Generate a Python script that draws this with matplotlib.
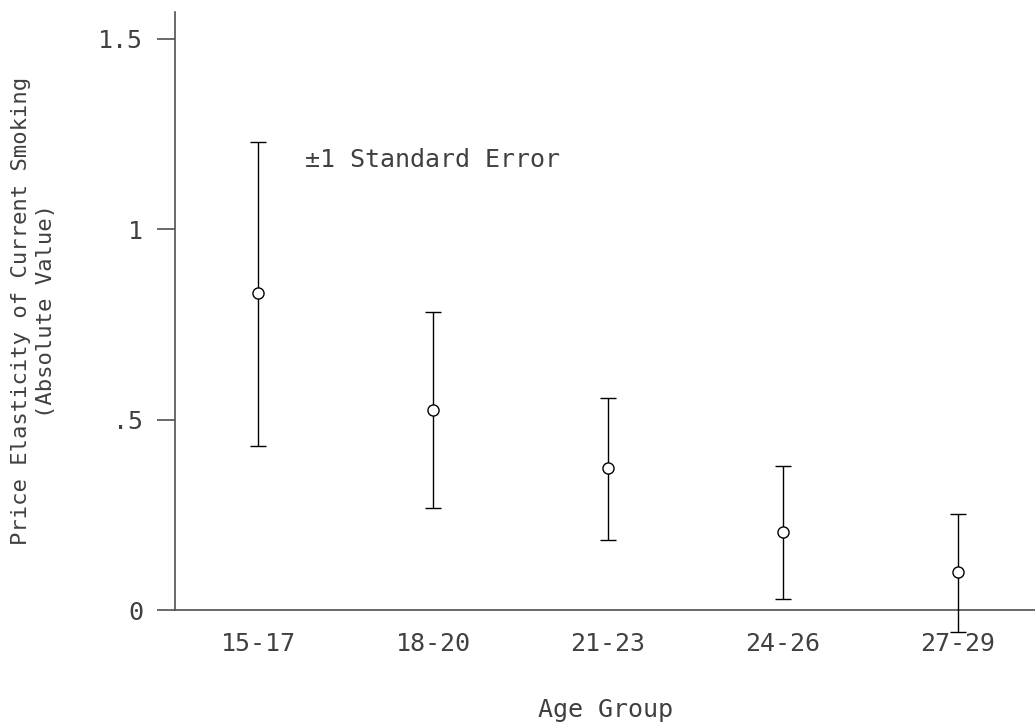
import matplotlib
matplotlib.use("Agg")
import matplotlib.pyplot as plt

age_groups = ["15-17", "18-20", "21-23", "24-26", "27-29"]
elasticity = [0.832, 0.525, 0.373, 0.205, 0.100]
upper = [1.228, 0.782, 0.556, 0.378, 0.252]
lower = [0.430, 0.268, 0.184, 0.029, -0.058]

y_ticks = [0, 0.5, 1, 1.5]
y_tick_labels = ["0", ".5", "1", "1.5"]

plt.rcParams["font.family"] = ["DejaVu Sans Mono"]
axis_color = "#505050"
text_color = "#404040"


def main():
    fig = plt.figure(figsize=(10.35, 7.23), dpi=100)
    ax = fig.add_axes([175 / 1035, 113 / 723, 860 / 1035, 598 / 723])

    x = list(range(1, len(age_groups) + 1))
    err_lo = [m - lo for m, lo in zip(elasticity, lower)]
    err_hi = [hi - m for m, hi in zip(elasticity, upper)]

    eb = ax.errorbar(x, elasticity, yerr=[err_lo, err_hi], fmt="o", mfc="white",
                     mec="black", ms=8, mew=1.0, ecolor="black", elinewidth=1.0,
                     capsize=6, capthick=1.0, color="black", zorder=3)
    for artist in eb.get_children():
        artist.set_clip_on(False)

    ax.set_xlim(0.526, 5.44)
    ax.set_ylim(0, 1.57)

    for side in ["top", "right"]:
        ax.spines[side].set_visible(False)
    for side in ["left", "bottom"]:
        ax.spines[side].set_color(axis_color)
        ax.spines[side].set_linewidth(1.2)

    ax.set_yticks(y_ticks)
    ax.set_yticklabels(y_tick_labels)
    ax.tick_params(axis="y", length=13, width=1.2, color=axis_color,
                   pad=10, labelsize=18, labelcolor=text_color)
    ax.set_xticks(x)
    ax.set_xticklabels(age_groups)
    ax.tick_params(axis="x", length=0, pad=16, labelsize=18,
                   labelcolor=text_color)

    ax.set_xlabel("Age Group", fontsize=18, color=text_color, labelpad=30)
    ax.set_ylabel("Price Elasticity of Current Smoking\n(Absolute Value)",
                  fontsize=16, color=text_color, labelpad=30, linespacing=1.35)

    ax.text(1.269, 1.181, "\u00b11 Standard Error", fontsize=18,
            color=text_color, ha="left", va="center")

    fig.savefig("out.png", dpi=100)


if __name__ == "__main__":
    main()
